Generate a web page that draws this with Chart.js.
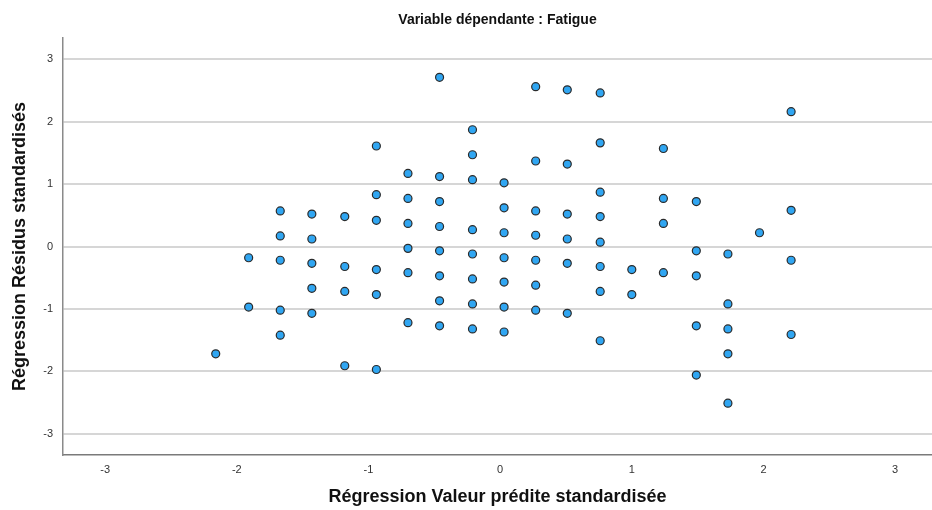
<!DOCTYPE html>
<html lang="fr">
<head>
<meta charset="utf-8">
<title>Nuage de points</title>
<script src="https://cdn.jsdelivr.net/npm/chart.js@4.4.1/dist/chart.umd.min.js"></script>
<style>
  html, body { margin: 0; padding: 0; background: #ffffff; }
  #wrap { width: 932px; height: 510px; }
</style>
</head>
<body>
<div id="wrap"><canvas id="residChart" width="932" height="510"></canvas></div>
<script>
// Standardized predicted values (x) and standardized residuals (y)
const predicted = [
  -2.16,
  -1.91, -1.91,
  -1.67, -1.67, -1.67, -1.67, -1.67,
  -1.43, -1.43, -1.43, -1.43, -1.43,
  -1.18, -1.18, -1.18, -1.18,
  -0.94, -0.94, -0.94, -0.94, -0.94, -0.94,
  -0.70, -0.70, -0.70, -0.70, -0.70, -0.70,
  -0.46, -0.46, -0.46, -0.46, -0.46, -0.46, -0.46, -0.46,
  -0.21, -0.21, -0.21, -0.21, -0.21, -0.21, -0.21, -0.21,
  0.03, 0.03, 0.03, 0.03, 0.03, 0.03, 0.03,
  0.27, 0.27, 0.27, 0.27, 0.27, 0.27, 0.27,
  0.51, 0.51, 0.51, 0.51, 0.51, 0.51,
  0.76, 0.76, 0.76, 0.76, 0.76, 0.76, 0.76, 0.76,
  1.00, 1.00,
  1.24, 1.24, 1.24, 1.24,
  1.49, 1.49, 1.49, 1.49, 1.49,
  1.73, 1.73, 1.73, 1.73, 1.73,
  1.97,
  2.21, 2.21, 2.21, 2.21
];
const residuals = [
  -1.72,
  -0.18, -0.97,
  0.57, 0.17, -0.22, -1.02, -1.42,
  0.52, 0.12, -0.27, -0.67, -1.07,
  0.48, -0.32, -0.72, -1.91,
  1.61, 0.83, 0.42, -0.37, -0.77, -1.97,
  1.17, 0.77, 0.37, -0.03, -0.42, -1.22,
  2.71, 1.12, 0.72, 0.32, -0.07, -0.47, -0.87, -1.27,
  1.87, 1.47, 1.07, 0.27, -0.12, -0.52, -0.92, -1.32,
  1.02, 0.62, 0.22, -0.18, -0.57, -0.97, -1.37,
  2.56, 1.37, 0.57, 0.18, -0.22, -0.62, -1.02,
  2.51, 1.32, 0.52, 0.12, -0.27, -1.07,
  2.46, 1.66, 0.87, 0.48, 0.07, -0.32, -0.72, -1.51,
  -0.37, -0.77,
  1.57, 0.77, 0.37, -0.42,
  0.72, -0.07, -0.47, -1.27, -2.06,
  -0.12, -0.92, -1.32, -1.72, -2.51,
  0.22,
  2.16, 0.58, -0.22, -1.41
];
const xTicks = [-3, -2, -1, 0, 1, 2, 3];
const yTicks = [-3, -2, -1, 0, 1, 2, 3];

const chartTitle = 'Variable dépendante : Fatigue';
const xTitle = 'Régression Valeur prédite standardisée';
const yTitle = 'Régression Résidus standardisés';

document.addEventListener('DOMContentLoaded', () => {
  const ctx = document.getElementById('residChart').getContext('2d');
  const font = '"Liberation Sans", Arial, sans-serif';

  const points = predicted.map((x, i) => ({ x: x, y: residuals[i] }));

  new Chart(ctx, {
    type: 'scatter',
    data: {
      datasets: [
        {
          data: points,
          backgroundColor: '#30a6f2',
          borderColor: '#2b2b2b',
          borderWidth: 1.2,
          pointRadius: 4,
          pointHoverRadius: 4,
          clip: false,
        },
      ],
    },
    options: {
      responsive: false,
      animation: false,
      layout: { padding: 0, autoPadding: false },
      plugins: {
        legend: { display: false },
        tooltip: { enabled: false },
        title: {
          display: true,
          text: chartTitle,
          fullSize: false,
          color: '#111111',
          font: { family: font, size: 14, weight: 'bold', lineHeight: 1.2 },
          padding: { top: 12, bottom: 9.2 },
        },
      },
      scales: {
        x: {
          type: 'linear',
          min: -3.32,
          max: 3.28,
          afterBuildTicks: (scale) => {
            scale.ticks = xTicks.map(v => ({ value: v }));
          },
          afterFit: (scale) => {
            scale.height = 55;
          },
          grid: { display: true, color: 'rgba(0,0,0,0)', drawTicks: false },
          border: { display: true, color: '#7a7a7a', width: 1.5 },
          ticks: {
            padding: 8,
            color: '#333333',
            font: { family: font, size: 11 },
            maxRotation: 0,
          },
          title: {
            display: true,
            text: xTitle,
            color: '#111111',
            font: { family: font, size: 18, weight: 'bold', lineHeight: 1.2 },
            padding: { top: 0, bottom: 2.2 },
          },
        },
        y: {
          type: 'linear',
          min: -3.34,
          max: 3.34,
          afterBuildTicks: (scale) => {
            scale.ticks = yTicks.map(v => ({ value: v }));
          },
          afterFit: (scale) => {
            scale.width = 63;
          },
          grid: { color: '#d6d6d6', lineWidth: 2, drawTicks: false },
          border: { display: true, color: '#8a8a8a', width: 1.5 },
          ticks: {
            padding: 10,
            color: '#333333',
            font: { family: font, size: 11 },
          },
          title: {
            display: true,
            text: yTitle,
            color: '#111111',
            font: { family: font, size: 18, weight: 'bold', lineHeight: 1.2 },
            padding: { top: 9, bottom: 0 },
          },
        },
      },
    },
  });
});
</script>
</body>
</html>
